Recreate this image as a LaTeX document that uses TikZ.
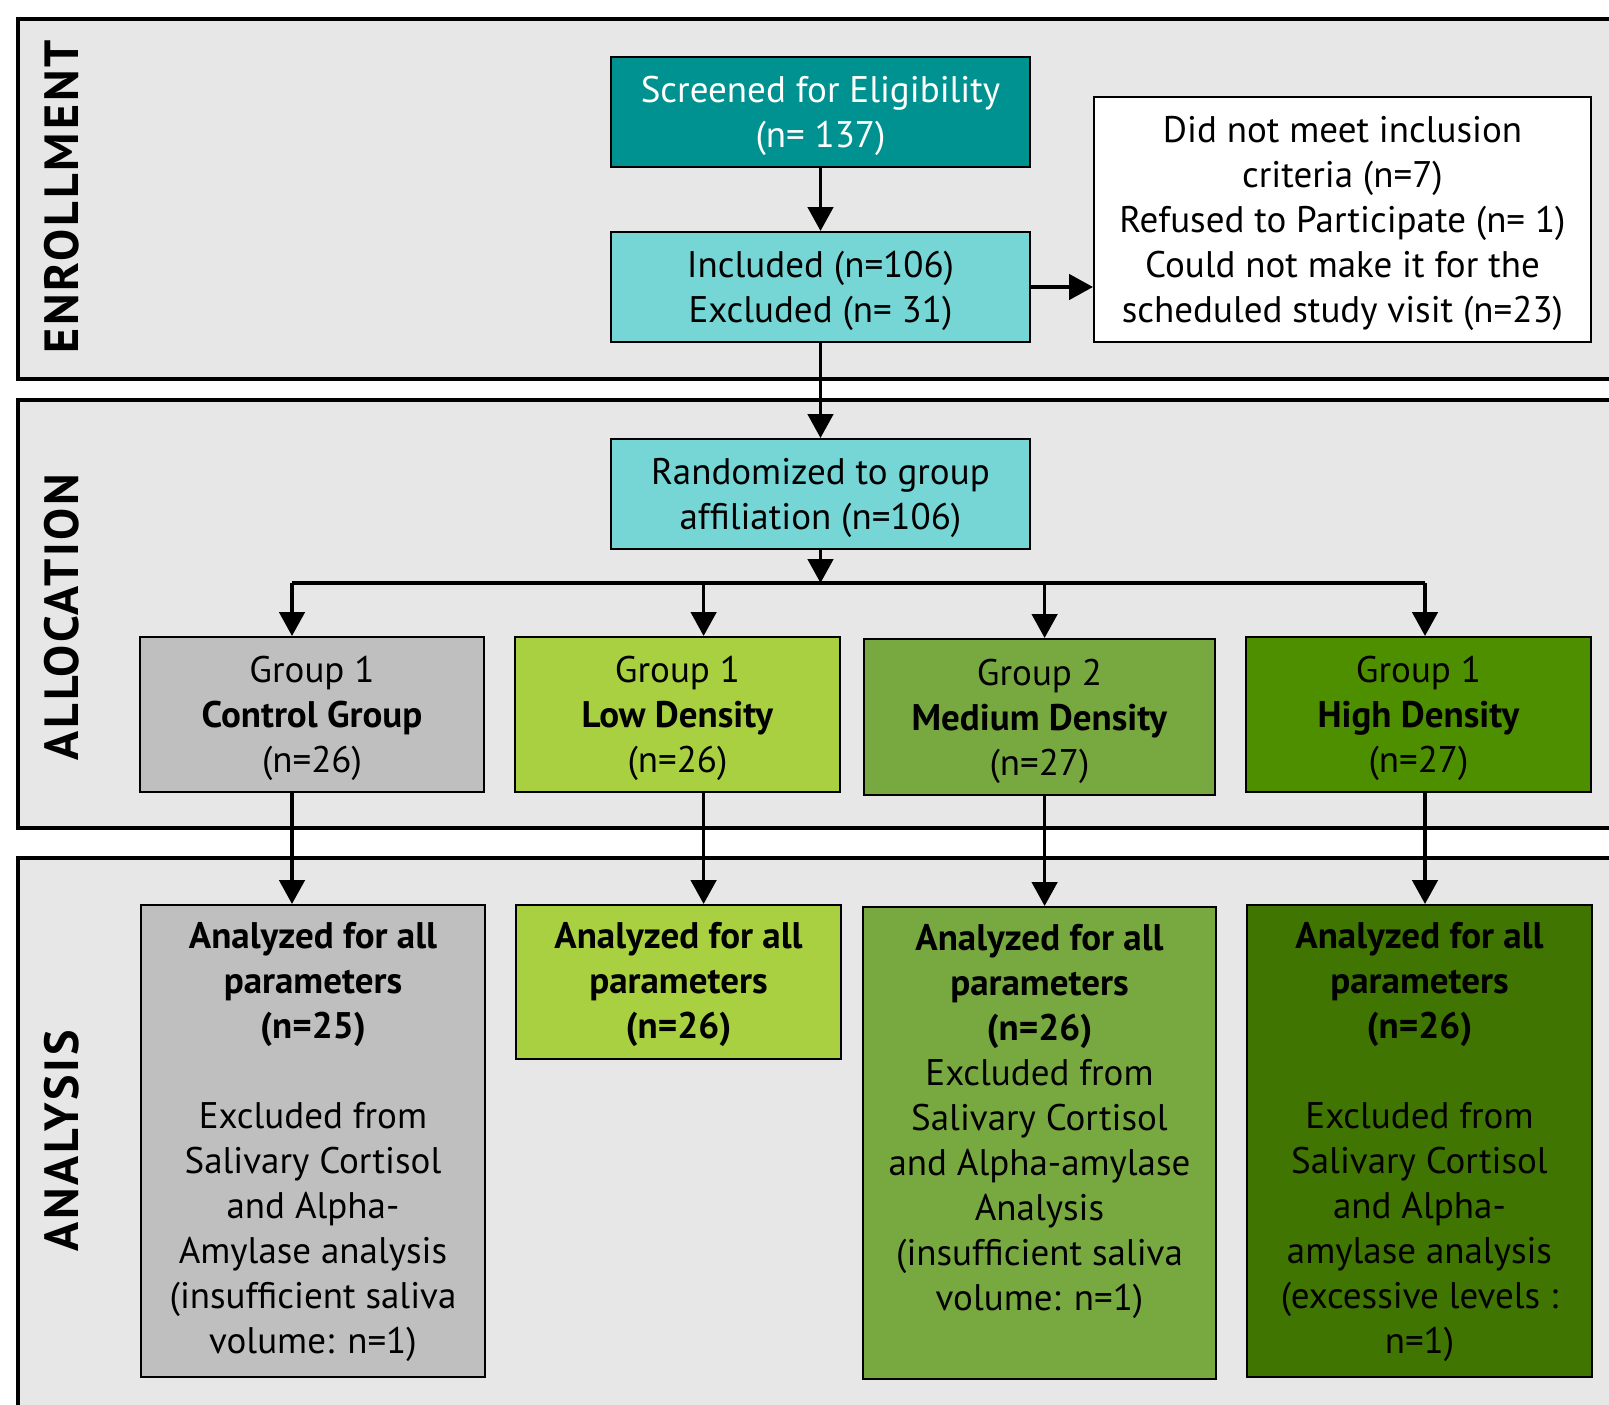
\documentclass[tikz,border=0pt]{standalone}
\usepackage{fontspec}
\setmainfont{PT Sans}
\newfontfamily\sidefont[LetterSpace=6]{PT Sans}
\usetikzlibrary{arrows.meta}
\definecolor{panelgray}{RGB}{231,231,231}
\definecolor{teal}{RGB}{0,146,145}
\definecolor{cyanlt}{RGB}{118,213,213}
\definecolor{ctrlgray}{RGB}{191,191,191}
\definecolor{lowgreen}{RGB}{168,208,64}
\definecolor{medgreen}{RGB}{120,168,64}
\definecolor{highgreen}{RGB}{78,143,0}
\definecolor{highdark}{RGB}{63,117,0}
\begin{document}
\begin{tikzpicture}[x=0.75pt,y=-0.75pt,
  panel/.style={draw=black, line width=3pt, fill=panelgray},
  box/.style={draw=black, line width=1.5pt, inner sep=0pt},
  txt/.style={inner sep=0pt, align=center, font=\fontsize{27.75pt}{33.75pt}\selectfont},
  side/.style={rotate=90, font=\fontsize{36pt}{40pt}\sidefont\bfseries},
  arr/.style={line width=2.8pt, -{Triangle[width=19pt,length=18pt]}},
  ln/.style={line width=2.8pt}]
\useasboundingbox (0,0) rectangle (1609,1404);
\clip (0,0) rectangle (1609,1404);
\fill[white] (0,0) rectangle (1609,1404);

% stage panels
\draw[panel] (18,19) rectangle (1640,379);
\draw[panel] (18,400) rectangle (1640,828);
\draw[panel] (18,858) rectangle (1640,1440);
\node[side] (lenr) at (62,197) {ENROLLMENT};
\node[side] (lall) at (62,617) {ALLOCATION};
\node[side] (lana) at (62,1141) {ANALYSIS};

% enrollment
\node[box, fill=teal, minimum width=314.25pt, minimum height=82.5pt] (scr) at (820.5,112) {};
\node[txt, text=white] (scrt) at ([yshift=-3pt]scr.center) {Screened for Eligibility\\(n= 137)};
\node[box, fill=cyanlt, minimum width=314.25pt, minimum height=82.5pt] (inc) at (820.5,287) {};
\node[txt] (inct) at ([yshift=-3pt]inc.center) {Included (n=106)\\Excluded (n= 31)};
\node[box, fill=white, minimum width=372.75pt, minimum height=183.75pt] (exc) at (1342.5,219.5) {};
\node[txt] (exct) at ([yshift=-3pt]exc.center)
  {Did not meet inclusion\\criteria (n=7)\\Refused to Participate (n= 1)\\Could not make it for the\\scheduled study visit (n=23)};

% allocation
\node[box, fill=cyanlt, minimum width=314.25pt, minimum height=82.5pt] (rand) at (820.5,494) {};
\node[txt] (randt) at ([yshift=-3pt]rand.center) {Randomized to group\\affiliation (n=106)};
\node[box, fill=ctrlgray, minimum width=258pt, minimum height=116.25pt] (g1) at (312,714.5) {};
\node[txt] (g1t) at ([yshift=-3pt]g1.center) {Group 1\\\textbf{Control Group}\\(n=26)};
\node[box, fill=lowgreen, minimum width=243.75pt, minimum height=116.25pt] (g2) at (677.5,714.5) {};
\node[txt] (g2t) at ([yshift=-3pt]g2.center) {Group 1\\\textbf{Low Density}\\(n=26)};
\node[box, fill=medgreen, minimum width=263.25pt, minimum height=117pt] (g3) at (1039.5,717) {};
\node[txt] (g3t) at ([yshift=-3pt]g3.center) {Group 2\\\textbf{Medium Density}\\(n=27)};
\node[box, fill=highgreen, minimum width=258.75pt, minimum height=116.25pt] (g4) at (1418.5,714.5) {};
\node[txt] (g4t) at ([yshift=-3pt]g4.center) {Group 1\\\textbf{High Density}\\(n=27)};

% analysis
\node[box, anchor=north west, fill=ctrlgray, minimum width=258pt, minimum height=354pt] (a1) at (140,904) {};
\node[box, anchor=north west, fill=lowgreen, minimum width=243.75pt, minimum height=115.5pt] (a2) at (515,904) {};
\node[box, anchor=north west, fill=medgreen, minimum width=264.75pt, minimum height=354pt] (a3) at (862,906) {};
\node[box, anchor=north west, fill=highdark, minimum width=258.75pt, minimum height=354pt] (a4) at (1246,904) {};
\node[txt, anchor=north] (t1) at ([yshift=-13.5pt]a1.north)
  {\textbf{Analyzed for all}\\\textbf{parameters}\\\textbf{(n=25)}\\[33.75pt]Excluded from\\Salivary Cortisol\\and Alpha-\\Amylase analysis\\(insufficient saliva\\volume: n=1)};
\node[txt, anchor=north] (t2) at ([yshift=-13.5pt]a2.north)
  {\textbf{Analyzed for all}\\\textbf{parameters}\\\textbf{(n=26)}};
\node[txt, anchor=north] (t3) at ([yshift=-13.5pt]a3.north)
  {\textbf{Analyzed for all}\\\textbf{parameters}\\\textbf{(n=26)}\\Excluded from\\Salivary Cortisol\\and Alpha-amylase\\Analysis\\(insufficient saliva\\volume: n=1)};
\node[txt, anchor=north] (t4) at ([yshift=-13.5pt]a4.north)
  {\textbf{Analyzed for all}\\\textbf{parameters}\\\textbf{(n=26)}\\[33.75pt]Excluded from\\Salivary Cortisol\\and Alpha-\\amylase analysis\\(excessive levels :\\n=1)};

% connectors
\coordinate (bus) at (820.5,583);
\coordinate (c1) at (292,583);
\coordinate (c2) at (703.6,583);
\coordinate (c3) at (1044.6,583);
\coordinate (c4) at (1425,583);
\draw[arr] (scr.south) -- (inc.north);
\draw[arr] (inc.east) -- (inc.east -| exc.west);
\draw[arr] (inc.south) -- (rand.north);
\draw[arr] (rand.south) -- (bus);
\draw[ln] (c1) -- (c4);
\draw[arr] (c1) -- (g1.north -| c1);
\draw[arr] (c2) -- (g2.north -| c2);
\draw[arr] (c3) -- (g3.north -| c3);
\draw[arr] (c4) -- (g4.north -| c4);
\draw[arr] (g1.south -| c1) -- (a1.north -| c1);
\draw[arr] (g2.south -| c2) -- (a2.north -| c2);
\draw[arr] (g3.south -| c3) -- (a3.north -| c3);
\draw[arr] (g4.south -| c4) -- (a4.north -| c4);
\end{tikzpicture}
\end{document}
